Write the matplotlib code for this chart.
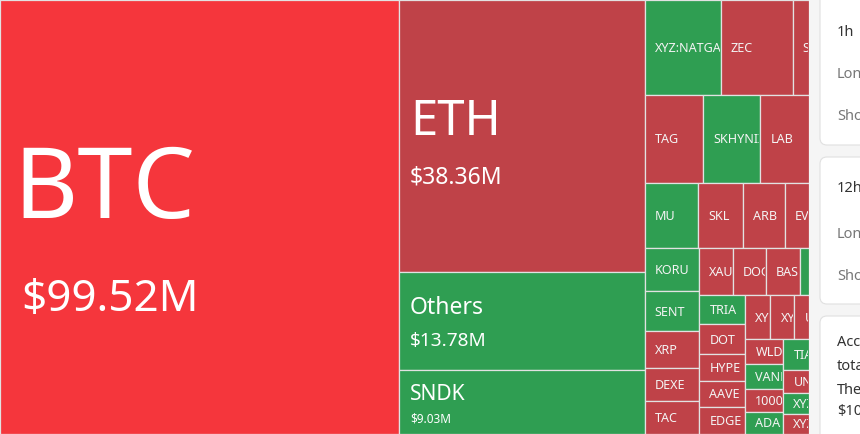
import matplotlib
matplotlib.use("Agg")
import matplotlib.pyplot as plt
from matplotlib.patches import Rectangle, FancyBboxPatch
from matplotlib.transforms import Bbox

plt.rcParams['font.family'] = ['Noto Sans', 'DejaVu Sans']

# ---------------- data (liquidations, $M) ----------------
major_names = ["BTC", "ETH", "Others", "SNDK"]
major_values = [99.52, 38.36, 13.78, 9.03]
major_amounts = ["$99.52M", "$38.36M", "$13.78M", "$9.03M"]
major_dirs = ["down", "down", "up", "up"]

row1_names = ["XYZ:NATGAS", "ZEC", "SOL"]
row1_values = [4.14, 3.90, 0.87]
row1_dirs = ["up", "down", "down"]

row2_names = ["TAG", "SKHYNIX", "LAB"]
row2_values = [2.96, 2.88, 2.43]
row2_dirs = ["down", "up", "down"]

row3_names = ["MU", "SKL", "ARB", "EVAA"]
row3_values = [1.98, 1.70, 1.55, 0.88]
row3_dirs = ["up", "down", "down", "down"]

col4_names = ["KORU", "SENT", "XRP", "DEXE", "TAC"]
col4_values = [1.36, 1.24, 1.16, 1.05, 1.02]
col4_dirs = ["up", "up", "down", "down", "down"]

row5_names = ["XAU", "DOGE", "BASED", ""]
row5_values = [0.90, 0.90, 0.90, 0.24]
row5_dirs = ["down", "down", "down", "up"]

col6_names = ["TRIA", "DOT", "HYPE", "AAVE", "EDGE"]
col6_values = [0.78, 0.77, 0.71, 0.71, 0.70]
col6_dirs = ["up", "down", "down", "down", "down"]

row7_names = ["XYZ:GOLD", "XYZ:SILVER", "USUAL"]
row7_values = [0.64, 0.61, 0.36]
row7_dirs = ["down", "down", "down"]

col8_names = ["WLD", "VANRY", "1000PEPE", "ADA"]
col8_values = [0.545, 0.534, 0.502, 0.491]
col8_dirs = ["down", "up", "down", "up"]

col9_names = ["TIA", "UNI", "XYZ:TSLA", "XYZ:NVDA"]
col9_values = [0.438, 0.330, 0.301, 0.294]
col9_dirs = ["up", "down", "up", "down"]

# ---------------- styles ----------------
COLORS = {"up": "#2f9e52", "down": "#bf4248"}
HIGHLIGHT = {"BTC": "#f5363c"}
BIG_LABEL = {  # name px, amount px, name pad, amount pad
    "BTC": (99, 44, 13, 21),
    "ETH": (49, 23, 10.5, 10.5),
    "Others": (23, 19, 10.5, 10.5),
    "SNDK": (21, 11.8, 10.5, 10.5),
}
SMALL_PX = 12.6
SMALL_PAD = 10
CAP = 0.714
LINE_H = 1.58
PX2PT = 0.72

W_TREE, H_TREE = 808.5, 434


def leaf(name, value, d, amount=None):
    return {"name": name, "value": value, "dir": d, "amount": amount}


def leaves(names, values, dirs):
    return [leaf(n, v, d) for n, v, d in zip(names, values, dirs)]


def group(orient, children):
    return {"orient": orient, "children": children}


def total(n):
    if "value" in n:
        return n["value"]
    return sum(total(c) for c in n["children"])


major = [leaf(n, v, d, a) for n, v, d, a in zip(major_names, major_values, major_dirs, major_amounts)]

tree = group("h", [
    major[0],
    group("v", major[1:]),
    group("v", [
        group("h", leaves(row1_names, row1_values, row1_dirs)),
        group("h", leaves(row2_names, row2_values, row2_dirs)),
        group("h", leaves(row3_names, row3_values, row3_dirs)),
        group("h", [
            group("v", leaves(col4_names, col4_values, col4_dirs)),
            group("v", [
                group("h", leaves(row5_names, row5_values, row5_dirs)),
                group("h", [
                    group("v", leaves(col6_names, col6_values, col6_dirs)),
                    group("v", [
                        group("h", leaves(row7_names, row7_values, row7_dirs)),
                        group("h", [
                            group("v", leaves(col8_names, col8_values, col8_dirs)),
                            group("v", leaves(col9_names, col9_values, col9_dirs)),
                        ]),
                    ]),
                ]),
            ]),
        ]),
    ]),
])

rects = []


def layout(node, x, y, w, h):
    if "value" in node:
        rects.append((node, x, y, w, h))
        return
    t = total(node)
    for c in node["children"]:
        f = total(c) / t
        if node["orient"] == "h":
            layout(c, x, y, w * f, h)
            x += w * f
        else:
            layout(c, x, y, w, h * f)
            y += h * f


layout(tree, 0, 0, W_TREE, H_TREE)

fig = plt.figure(figsize=(8.6, 4.34), dpi=100)
ax = fig.add_axes([0, 0, 1, 1])
ax.set_xlim(0, 860)
ax.set_ylim(434, 0)
ax.axis("off")


def clip_to(t, x, y, w, h):
    (dx0, dy0), (dx1, dy1) = ax.transData.transform([(x, y), (x + w - 1, y + h)])
    bb = Bbox.from_extents(min(dx0, dx1), min(dy0, dy1), max(dx0, dx1), max(dy0, dy1))
    t.set_clip_on(True)
    t.set_clip_box(bb)


for node, x, y, w, h in rects:
    col = HIGHLIGHT.get(node["name"], COLORS[node["dir"]])
    r = Rectangle((x, y), w, h, facecolor=col, edgecolor="#e2e2e2", lw=0.9, zorder=1)
    ax.add_patch(r)
    cy = y + h / 2
    if node["amount"] is not None:
        e1, e2, p1, p2 = BIG_LABEL[node["name"]]
        top = cy - LINE_H * (e1 + e2) / 2
        b1 = top + LINE_H * e1 / 2 + CAP * e1 / 2
        b2 = top + LINE_H * e1 + LINE_H * e2 / 2 + CAP * e2 / 2
        t1 = ax.text(x + p1, b1, node["name"], color="white", fontsize=e1 * PX2PT,
                     va="baseline", ha="left", zorder=2)
        t2 = ax.text(x + p2, b2, node["amount"], color="white", fontsize=e2 * PX2PT,
                     va="baseline", ha="left", zorder=2)
        clip_to(t1, x, y, w, h)
        clip_to(t2, x, y, w, h)
    elif node["name"]:
        t = ax.text(x + SMALL_PAD, cy + CAP * SMALL_PX / 2, node["name"], color="#f4f4f4",
                    fontsize=SMALL_PX * PX2PT, va="baseline", ha="left", zorder=2)
        clip_to(t, x, y, w, h)

# ---------------- sidebar ----------------
ax.add_patch(Rectangle((W_TREE, -5), 60, 450, facecolor="#f5f5f5", edgecolor="none", zorder=5))
for y0, y1 in [(-20, 145), (157, 304), (316, 470)]:
    ax.add_patch(FancyBboxPatch((820, y0), 90, y1 - y0,
                                boxstyle="round,pad=0,rounding_size=7",
                                facecolor="white", edgecolor="#e0e0e0", lw=0.8, zorder=6))

side_texts = [
    ("1h", 33, "#333333", "semibold"),
    ("Long", 75, "#777777", "normal"),
    ("Short", 117, "#777777", "normal"),
    ("12h", 189, "#333333", "semibold"),
    ("Long", 234, "#777777", "normal"),
    ("Short", 276, "#777777", "normal"),
    ("According", 343, "#333333", "normal"),
    ("total", 366, "#333333", "normal"),
    ("The", 390, "#333333", "normal"),
    ("$10.1M", 412, "#333333", "normal"),
]
for s, yy, c, wt in side_texts:
    ax.text(837, yy, s, color=c, fontsize=10.5, fontweight=wt, va="center", ha="left", zorder=7)

fig.savefig("out.png", dpi=100)
